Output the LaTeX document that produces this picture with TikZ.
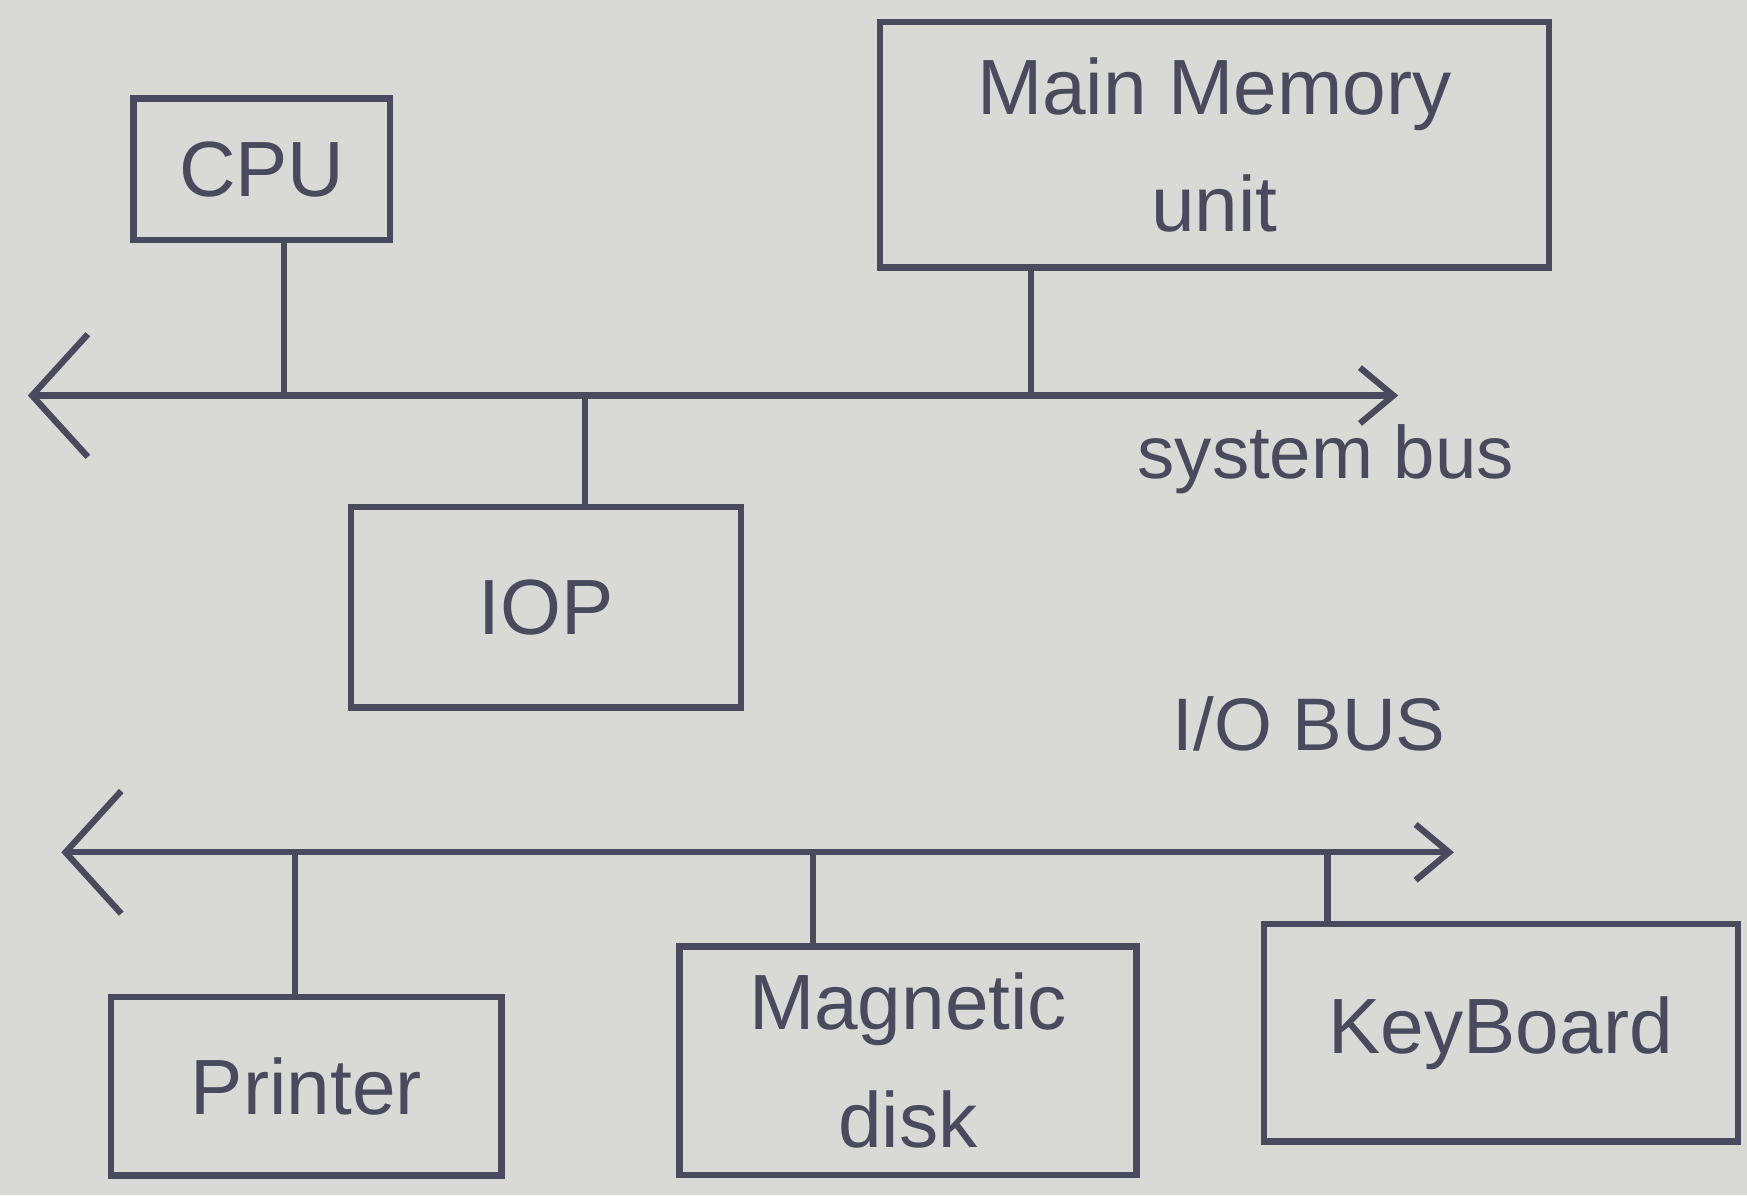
\documentclass[tikz,border=0pt]{standalone}
\usepackage{fontspec}
\setmainfont{Liberation Sans}
\usetikzlibrary{arrows.meta}
\definecolor{paper}{HTML}{D9D9D5}
\definecolor{ink}{HTML}{4A4A5E}
\begin{document}
\begin{tikzpicture}[x=0.01cm,y=-0.01cm,
  box/.style={draw=ink, line width=1.6pt, inner sep=0pt, text=ink, align=center,
    font=\fontsize{20}{30}\selectfont},
  wire/.style={draw=ink, line width=1.6pt},
  bus/.style={draw=ink, line width=1.6pt,
    {Straight Barb[length=5mm,width=11mm]}-{Straight Barb[length=3mm,width=5mm]}},
  lbl/.style={text=ink, font=\fontsize{19}{22}\selectfont}]
\fill[paper] (0,0) rectangle (1568,1073);
\useasboundingbox (0,0) rectangle (1568,1073);

% nodes
\node[box, minimum width=2.3cm, minimum height=1.27cm] (cpu) at (235,152) {CPU};
\node[box, minimum width=6.0cm, minimum height=2.2cm] (mem) at (1090,130) {Main Memory\\unit};
\node[box, minimum width=3.5cm, minimum height=1.8cm] (iop) at (490,545) {IOP};
\node[box, minimum width=3.5cm, minimum height=1.6cm] (prn) at (275,975) {Printer};
\node[box, minimum width=4.1cm, minimum height=2.05cm] (dsk) at (815,952) {Magnetic\\disk};
\node[box, minimum width=4.25cm, minimum height=1.95cm] (kbd) at (1347,927) {KeyBoard};

% system bus
\coordinate (sl) at (25,355);
\coordinate (sr) at (1255,355);
\draw[bus] (sl) -- (sr);
\node[lbl] (slbl) at (1190,412) {system bus};

% I/O bus
\coordinate (il) at (55,765);
\coordinate (ir) at (1305,765);
\draw[bus] (il) -- (ir);
\node[lbl] (ilbl) at (1175,650) {I/O BUS};

% connections to system bus
\coordinate (c1) at ([xshift=0.2cm]cpu.south);
\draw[wire] (c1) -- (c1 |- sl);
\coordinate (m1) at ([xshift=1.38cm]mem.south west);
\draw[wire] (m1) -- (m1 |- sl);
\coordinate (i1) at ([xshift=0.35cm]iop.north);
\draw[wire] (i1) -- (i1 |- sl);

% connections to I/O bus
\coordinate (p1) at ([xshift=-0.1cm]prn.north);
\draw[wire] (p1) -- (p1 |- il);
\coordinate (d1) at ([xshift=-0.85cm]dsk.north);
\draw[wire] (d1) -- (d1 |- il);
\coordinate (k1) at ([xshift=0.6cm]kbd.north west);
\draw[wire] (k1) -- (k1 |- il);
\end{tikzpicture}
\end{document}
